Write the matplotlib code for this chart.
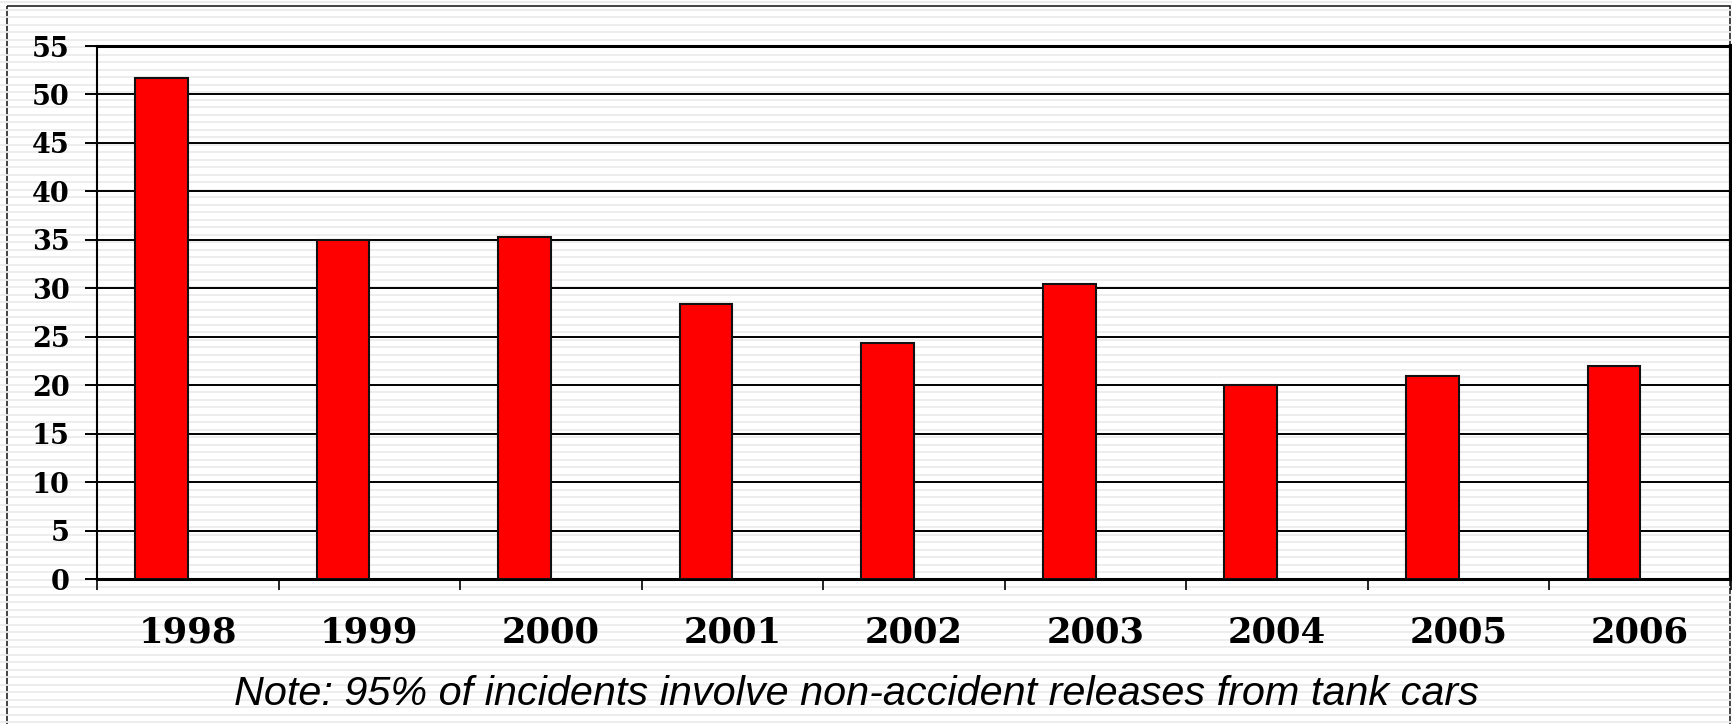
import matplotlib
matplotlib.use("Agg")
import matplotlib.pyplot as plt
import numpy as np
from matplotlib.patches import Rectangle

years = ["1998", "1999", "2000", "2001", "2002", "2003", "2004", "2005", "2006"]
incidents = [51.7, 35.0, 35.3, 28.4, 24.4, 30.4, 20.0, 20.9, 22.0]
y_ticks = [0, 5, 10, 15, 20, 25, 30, 35, 40, 45, 50, 55]
note = "Note: 95% of incidents involve non-accident releases from tank cars"

W, H = 1733, 724
fig = plt.figure(figsize=(W / 100, H / 100), dpi=100)
fig.patch.set_facecolor("white")

# striped background
bg = fig.add_axes([0, 0, 1, 1], zorder=0)
bg.set_xlim(0, W)
bg.set_ylim(H, 0)
bg.axis("off")
stripe_y = np.arange(2.0, H, 7.5)
bg.hlines(stripe_y, 0, W, color="#ececec", linewidth=1.3)
bg.add_patch(Rectangle((7, 6), 1723, 800, fill=False, edgecolor="#222222", linewidth=1.2))

ax = fig.add_axes([97 / W, 1 - 579 / H, (1731 - 97) / W, (579 - 46) / H], zorder=1)
ax.patch.set_alpha(0)

x = np.arange(len(years))
bw = 0.29
ax.bar(x - bw / 2, incidents, width=bw, color="#ff0000", edgecolor="#111111",
       linewidth=1.5, zorder=3)

ax.set_xlim(-0.5, len(years) - 0.5)
ax.set_ylim(0, 55)
ax.set_yticks(y_ticks)
ax.set_yticklabels([str(v) for v in y_ticks], fontfamily="DejaVu Serif",
                   fontweight="bold", fontsize=19.5)
ax.yaxis.grid(True, color="black", linewidth=1.4, zorder=1)
ax.set_axisbelow(True)

ax.set_xticks(x)
ax.set_xticklabels(years, fontfamily="DejaVu Serif", fontweight="bold", fontsize=25.5)
ax.set_xticks(np.arange(-0.5, len(years), 1.0), minor=True)
ax.tick_params(axis="x", which="major", length=0, pad=26)
ax.tick_params(axis="x", which="minor", direction="out", length=8, width=1.2, color="black")
ax.tick_params(axis="y", which="major", direction="out", length=8.6, width=1.4,
               color="black", pad=11)

for side in ["top", "bottom"]:
    ax.spines[side].set_linewidth(2.2)
ax.spines["left"].set_linewidth(1.5)
ax.spines["right"].set_linewidth(3.0)
for s in ax.spines.values():
    s.set_color("black")

fig.text(856 / W, 1 - 705 / H, note, fontfamily="Liberation Sans", style="italic",
         fontsize=29.8, ha="center", va="baseline", color="black")

fig.savefig("out.png", dpi=100)
